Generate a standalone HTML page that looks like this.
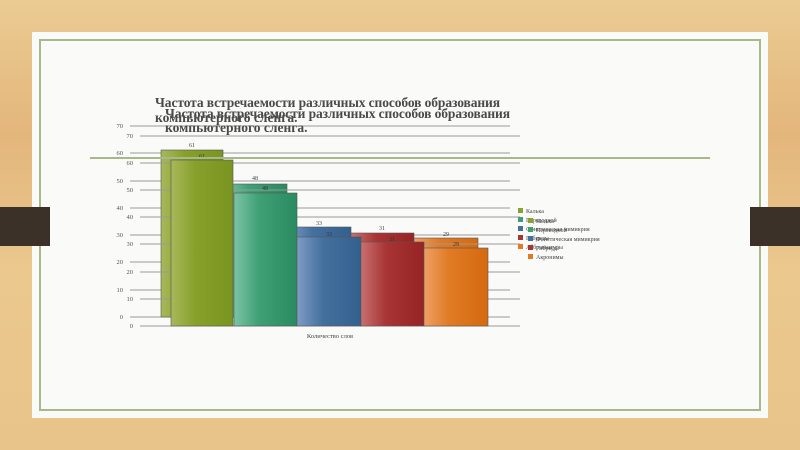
<!DOCTYPE html>
<html><head><meta charset="utf-8"><style>
html,body{margin:0;padding:0;width:800px;height:450px;overflow:hidden;background:#e6c088;}
svg{display:block}
text{font-family:"Liberation Serif","DejaVu Serif",serif;}
</style></head><body>
<svg width="800" height="450" viewBox="0 0 800 450" xmlns="http://www.w3.org/2000/svg">
<defs>
<linearGradient id="wood" x1="0" y1="0" x2="0" y2="1">
<stop offset="0" stop-color="#ebcb92"/><stop offset="0.3" stop-color="#e3b67c"/><stop offset="0.6" stop-color="#ebc88e"/><stop offset="1" stop-color="#e9c48a"/></linearGradient>
<linearGradient id="g1" x1="0" x2="1"><stop offset="0" stop-color="#a8b85a"/><stop offset="0.4" stop-color="#86a02a"/><stop offset="1" stop-color="#7a9420"/></linearGradient>
<linearGradient id="g2" x1="0" x2="1"><stop offset="0" stop-color="#7cc4a4"/><stop offset="0.4" stop-color="#3ea074"/><stop offset="1" stop-color="#2a8a60"/></linearGradient>
<linearGradient id="g3" x1="0" x2="1"><stop offset="0" stop-color="#7e9cc4"/><stop offset="0.4" stop-color="#44709e"/><stop offset="1" stop-color="#33608e"/></linearGradient>
<linearGradient id="g4" x1="0" x2="1"><stop offset="0" stop-color="#c87070"/><stop offset="0.4" stop-color="#a83434"/><stop offset="1" stop-color="#962424"/></linearGradient>
<linearGradient id="g5" x1="0" x2="1"><stop offset="0" stop-color="#eea066"/><stop offset="0.4" stop-color="#e07a24"/><stop offset="1" stop-color="#d46a10"/></linearGradient>
</defs>
<rect width="800" height="450" fill="url(#wood)"/>
<rect x="32" y="32" width="736" height="386" fill="#fafaf9"/>
<rect x="40" y="40" width="720" height="370" fill="none" stroke="#a9b88a" stroke-width="2"/>
<rect x="0" y="207" width="50" height="39" fill="#3b3128"/>
<rect x="750" y="207" width="50" height="39" fill="#3b3128"/>

<g stroke="#999" stroke-width="1">
<line x1="130" y1="126" x2="510" y2="126"/><line x1="130" y1="153" x2="510" y2="153"/><line x1="130" y1="181" x2="510" y2="181"/><line x1="130" y1="208" x2="510" y2="208"/><line x1="130" y1="235" x2="510" y2="235"/><line x1="130" y1="262" x2="510" y2="262"/><line x1="130" y1="290" x2="510" y2="290"/><line x1="130" y1="317" x2="510" y2="317"/>
</g>
<g font-size="6.5" fill="#555" text-anchor="end">
<text x="123" y="128">70</text><text x="123" y="155">60</text><text x="123" y="183">50</text><text x="123" y="210">40</text><text x="123" y="237">30</text><text x="123" y="264">20</text><text x="123" y="292">10</text><text x="123" y="319">0</text></g>
<g stroke="#555" stroke-width="0.6">
<rect x="161" y="150" width="62" height="167" fill="url(#g1)"/>
<rect x="224" y="184" width="63" height="133" fill="url(#g2)"/>
<rect x="287" y="227" width="64" height="90" fill="url(#g3)"/>
<rect x="351" y="233" width="63" height="84" fill="url(#g4)"/>
<rect x="414" y="238" width="64" height="79" fill="url(#g5)"/>
</g>
<g font-size="6" fill="#444" text-anchor="middle">
<text x="192" y="147">61</text><text x="255" y="180">48</text><text x="319" y="225">33</text><text x="382" y="230">31</text><text x="446" y="236">29</text></g>

<g stroke="#999" stroke-width="1">
<line x1="140" y1="136" x2="520" y2="136"/><line x1="140" y1="163" x2="520" y2="163"/><line x1="140" y1="190" x2="520" y2="190"/><line x1="140" y1="217" x2="520" y2="217"/><line x1="140" y1="244" x2="520" y2="244"/><line x1="140" y1="272" x2="520" y2="272"/><line x1="140" y1="299" x2="520" y2="299"/><line x1="140" y1="326" x2="520" y2="326"/>
</g>
<g font-size="6.5" fill="#555" text-anchor="end">
<text x="133" y="138">70</text><text x="133" y="165">60</text><text x="133" y="192">50</text><text x="133" y="219">40</text><text x="133" y="246">30</text><text x="133" y="274">20</text><text x="133" y="301">10</text><text x="133" y="328">0</text></g>
<g stroke="#555" stroke-width="0.6">
<rect x="171" y="160" width="62" height="166" fill="url(#g1)"/>
<rect x="234" y="193" width="63" height="133" fill="url(#g2)"/>
<rect x="297" y="237" width="64" height="89" fill="url(#g3)"/>
<rect x="361" y="242" width="63" height="84" fill="url(#g4)"/>
<rect x="424" y="248" width="64" height="78" fill="url(#g5)"/>
</g>
<g font-size="6" fill="#333" text-anchor="middle">
<text x="202" y="158">61</text><text x="265" y="190">48</text><text x="329" y="236">33</text><text x="392" y="241">31</text><text x="456" y="246">29</text></g>
<text x="330" y="338" font-size="6.5" fill="#444" text-anchor="middle">Количество слов</text>

<line x1="90" y1="158" x2="710" y2="158" stroke="#a9b88a" stroke-width="2"/>

<g font-size="6" fill="#444">
<rect x="518" y="208" width="5" height="5" fill="#8aa232"/><text x="526" y="213">Калька</text>
<rect x="518" y="217" width="5" height="5" fill="#3ea074"/><text x="526" y="222">Переводной</text>
<rect x="518" y="226" width="5" height="5" fill="#44709e"/><text x="526" y="231">Фонетическая мимикрия</text>
<rect x="518" y="235" width="5" height="5" fill="#a83434"/><text x="526" y="240">Гибриды</text>
<rect x="518" y="244" width="5" height="5" fill="#e07a24"/><text x="526" y="249">Аббревиатуры</text>
<rect x="528" y="218" width="5" height="5" fill="#8aa232"/><text x="536" y="223">Калька</text>
<rect x="528" y="227" width="5" height="5" fill="#3ea074"/><text x="536" y="232">Переводной</text>
<rect x="528" y="236" width="5" height="5" fill="#44709e"/><text x="536" y="241">Фонетическая мимикрия</text>
<rect x="528" y="245" width="5" height="5" fill="#a83434"/><text x="536" y="250">Гибриды</text>
<rect x="528" y="254" width="5" height="5" fill="#e07a24"/><text x="536" y="259">Акронимы</text>
</g>

<g font-size="13.5" font-weight="bold" fill="#4a4a4a">
<text x="155" y="107" textLength="345">Частота встречаемости различных способов образования</text>
<text x="155" y="122">компьютерного сленга.</text>
<text x="165" y="118" textLength="345">Частота встречаемости различных способов образования</text>
<text x="165" y="132">компьютерного сленга.</text>
</g>
</svg>
</body></html>
